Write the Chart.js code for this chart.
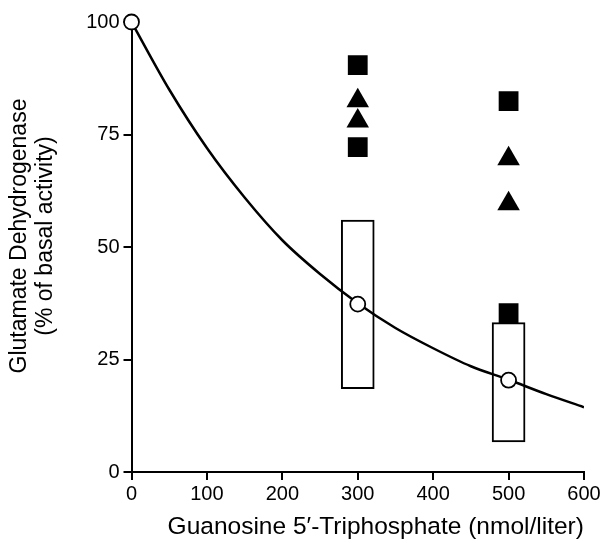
<!DOCTYPE html>
<html>
<head>
<meta charset="utf-8">
<script src="https://cdn.jsdelivr.net/npm/chart.js@4.4.1/dist/chart.umd.min.js"></script>
<style>
  html, body { margin: 0; padding: 0; background: #fff; }
  #wrap { width: 604px; height: 543px; }
</style>
</head>
<body>
<div id="wrap"><canvas id="c" width="604" height="543"></canvas></div>
<script>
// fitted curve
const curveX = [0, 50, 100, 150, 200, 250, 300, 350, 400, 450, 500, 550, 600];
const curveY = [100, 85, 72, 61, 51.5, 44, 37.5, 32, 27.5, 23.5, 20.5, 17.3, 14.4];

// open circles (means)
const meanX = [0, 300, 500];
const meanY = [100, 37.3, 20.4];

// boxes (range)
const boxX = [300, 500];
const boxLow = [18.5, 6.7];
const boxHigh = [56, 33.2];

// filled squares and triangles
const squareX = [300, 300, 500, 500];
const squareY = [90.4, 72.2, 82.4, 35.3];
const triX = [300, 300, 500, 500];
const triY = [82.5, 78, 69.6, 59.6];

const xTicks = [0, 100, 200, 300, 400, 500, 600];
const yTicks = [0, 25, 50, 75, 100];

const xTitle = "Guanosine 5\u2032-Triphosphate (nmol/liter)";
const yTitle = ["Glutamate Dehydrogenase", "(% of basal activity)"];

const pts = (xs, ys) => xs.map((x, i) => ({ x: x, y: ys[i] }));
const FONT = "'Liberation Sans', Arial, sans-serif";

// axis titles sit a little off-centre in the original, so draw them by hand
const axisTitles = {
  id: "axisTitles",
  afterDraw(chart) {
    const c = chart.ctx;
    const area = chart.chartArea;
    c.save();
    c.fillStyle = "#000";
    c.textAlign = "center";
    c.textBaseline = "middle";
    c.font = "24.5px " + FONT;
    c.fillText(xTitle, (area.left + area.right) / 2 + 18, 527);
    c.translate(0, (area.top + area.bottom) / 2 - 11);
    c.rotate(-Math.PI / 2);
    c.font = "23px " + FONT;
    c.fillText(yTitle[0], 0, 20);
    c.fillText(yTitle[1], 0, 46);
    c.restore();
  }
};

const ctx = document.getElementById("c").getContext("2d");
new Chart(ctx, {
  type: "scatter",
  data: {
    datasets: [
      {
        type: "bar",
        data: boxX.map((x, i) => ({ x: x, y: [boxLow[i], boxHigh[i]] })),
        backgroundColor: "#fff",
        borderColor: "#000",
        borderWidth: 2,
        borderSkipped: false,
        barThickness: 33,
        grouped: false,
        order: 5
      },
      {
        type: "line",
        data: pts(curveX, curveY),
        borderColor: "#000",
        borderWidth: 2.5,
        pointRadius: 0,
        cubicInterpolationMode: "monotone",
        fill: false,
        order: 4
      },
      {
        data: pts(meanX, meanY),
        pointStyle: "circle",
        pointRadius: 7.5,
        backgroundColor: "#fff",
        borderColor: "#000",
        borderWidth: 1.8,
        clip: false,
        order: 1
      },
      {
        data: pts(squareX, squareY),
        pointStyle: "rect",
        pointRadius: 14,
        backgroundColor: "#000",
        borderColor: "#000",
        borderWidth: 0,
        order: 2
      },
      {
        data: pts(triX, triY),
        pointStyle: "triangle",
        pointRadius: 13,
        backgroundColor: "#000",
        borderColor: "#000",
        borderWidth: 0,
        order: 2
      }
    ]
  },
  options: {
    responsive: false,
    animation: false,
    layout: { padding: { left: 6, right: 20, top: 22, bottom: 0 } },
    plugins: { legend: { display: false }, tooltip: { enabled: false } },
    scales: {
      x: {
        type: "linear",
        min: 0,
        max: 600,
        offset: false,
        afterBuildTicks: s => { s.ticks = xTicks.map(v => ({ value: v })); },
        afterFit: s => { s.height = 543 - 472; },
        grid: { offset: false, drawOnChartArea: false, drawTicks: true, tickLength: 8, color: "#000", lineWidth: 2 },
        border: { color: "#000", width: 2 },
        ticks: { color: "#000", font: { family: FONT, size: 20 }, padding: 2 },
        title: { display: false }
      },
      y: {
        type: "linear",
        min: 0,
        max: 100,
        afterBuildTicks: s => { s.ticks = yTicks.map(v => ({ value: v })); },
        afterFit: s => { s.width = 131.5 - 6; },
        grid: { drawOnChartArea: false, drawTicks: true, tickLength: 8, color: "#000", lineWidth: 2 },
        border: { color: "#000", width: 2 },
        ticks: { color: "#000", font: { family: FONT, size: 20 }, padding: 4 },
        title: { display: false }
      }
    }
  },
  plugins: [axisTitles]
});
</script>
</body>
</html>
